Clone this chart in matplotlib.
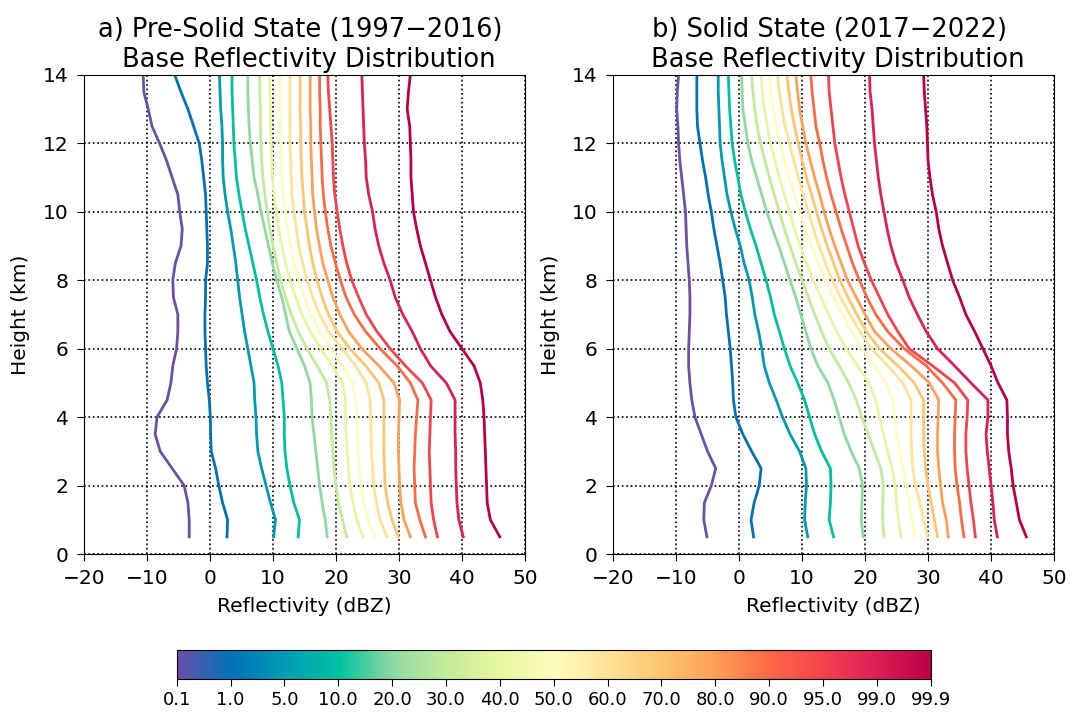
import numpy as np
import matplotlib
matplotlib.use("Agg")
import matplotlib.pyplot as plt
from matplotlib.colors import LinearSegmentedColormap, Normalize
from matplotlib.cm import ScalarMappable

# percentile levels shown in the colorbar
percentiles = ["0.1", "1.0", "5.0", "10.0", "20.0", "30.0", "40.0", "50.0",
               "60.0", "70.0", "80.0", "90.0", "95.0", "99.0", "99.9"]

heights = [0.5, 1.0, 1.5, 2.0, 2.5, 3.0, 3.5, 4.0, 4.5, 5.0, 5.5, 6.0, 6.5, 7.0,
           7.5, 8.0, 8.5, 9.0, 9.5, 10.0, 10.5, 11.0, 11.5, 12.0, 12.5, 13.0, 13.5, 14.0]

# a) pre-solid state (1997-2016), reflectivity (dBZ) per height
a_p0_1 = [-3.3, -3.3, -3.5, -4.1, -6.0, -7.9, -8.7, -8.4, -6.8, -6.2, -5.9, -5.3, -5.1, -5.1,
          -5.8, -5.9, -5.5, -4.6, -4.4, -4.8, -5.1, -6.0, -6.9, -8.0, -9.2, -9.8, -10.5, -10.6]
a_p1 = [2.7, 2.8, 2.0, 1.4, 0.9, 0.2, 0.1, 0.05, -0.1, -0.4, -0.6, -0.7, -0.8, -0.8,
        -0.7, -0.7, -0.4, -0.4, -0.5, -0.6, -0.7, -1.0, -1.3, -1.7, -2.6, -3.5, -4.6, -5.6]
a_p5 = [10.1, 10.4, 9.6, 8.9, 8.2, 7.6, 7.4, 7.3, 7.1, 7.0, 6.5, 6.0, 5.5, 5.1,
        4.7, 4.4, 4.1, 3.7, 3.3, 2.8, 2.4, 2.1, 2.0, 2.0, 1.9, 1.7, 1.6, 1.5]
a_p10 = [14.0, 14.2, 13.3, 12.7, 12.2, 11.9, 11.8, 11.8, 11.6, 11.4, 10.8, 10.0, 9.2, 8.5,
         7.9, 7.4, 6.8, 6.2, 5.6, 5.1, 4.6, 4.2, 4.0, 3.8, 3.7, 3.6, 3.5, 3.5]
a_p20 = [18.6, 18.3, 17.8, 17.4, 17.1, 16.8, 16.5, 16.2, 16.1, 15.9, 15.0, 13.8, 12.6, 12.0,
         11.4, 10.6, 9.9, 9.3, 8.7, 8.1, 7.6, 7.0, 6.7, 6.4, 6.2, 6.1, 6.0, 6.0]
a_p30 = [21.7, 21.0, 20.4, 20.0, 19.7, 19.5, 19.3, 19.2, 19.0, 18.5, 17.0, 15.4, 14.0, 12.9,
         12.0, 11.2, 10.6, 10.0, 9.5, 9.1, 8.7, 8.4, 8.2, 8.1, 8.0, 8.0, 7.9, 7.9]
a_p40 = [24.3, 23.3, 22.7, 22.2, 22.0, 21.8, 21.6, 21.5, 21.5, 21.0, 19.4, 17.6, 15.9, 14.6,
         13.6, 12.7, 12.0, 11.4, 10.9, 10.5, 10.2, 9.9, 9.8, 9.7, 9.6, 9.6, 9.5, 9.5]
a_p50 = [26.2, 25.1, 24.4, 24.0, 23.7, 23.5, 23.4, 23.3, 23.2, 22.6, 21.0, 19.2, 17.4, 16.0,
         15.0, 14.1, 13.4, 12.8, 12.3, 11.9, 11.6, 11.4, 11.3, 11.2, 11.2, 11.1, 11.1, 11.1]
a_p60 = [28.1, 27.0, 26.4, 26.0, 25.8, 25.6, 25.6, 25.5, 25.4, 24.8, 23.1, 21.0, 18.8, 17.4,
         16.3, 15.4, 14.7, 14.1, 13.7, 13.3, 13.0, 12.9, 12.8, 12.7, 12.7, 12.7, 12.7, 12.7]
a_p70 = [29.9, 28.9, 28.2, 27.8, 27.7, 27.6, 27.6, 27.6, 27.6, 26.8, 24.7, 22.2, 20.2, 18.8,
         17.8, 17.0, 16.3, 15.8, 15.4, 15.0, 14.8, 14.6, 14.5, 14.4, 14.4, 14.3, 14.3, 14.3]
a_p80 = [31.8, 30.8, 30.3, 30.1, 30.0, 29.9, 29.9, 30.0, 30.1, 29.2, 26.8, 24.1, 22.0, 20.6,
         19.5, 18.7, 17.9, 17.4, 16.9, 16.6, 16.3, 16.2, 16.1, 16.0, 16.0, 15.9, 15.9, 15.9]
a_p90 = [34.2, 33.3, 32.6, 32.5, 32.4, 32.5, 32.6, 32.8, 33.0, 31.8, 29.7, 27.0, 24.7, 22.9,
         21.6, 20.7, 19.9, 19.2, 18.7, 18.3, 18.0, 17.8, 17.7, 17.6, 17.5, 17.5, 17.4, 17.4]
a_p95 = [36.1, 35.5, 35.1, 35.0, 34.9, 34.8, 34.9, 35.0, 35.1, 33.7, 31.0, 28.6, 26.5, 24.8,
         23.6, 22.5, 21.7, 21.1, 20.6, 20.2, 19.8, 19.6, 19.5, 19.4, 19.2, 19.0, 18.8, 18.7]
a_p99 = [40.2, 39.5, 39.2, 39.1, 39.0, 39.0, 38.9, 38.9, 38.9, 37.5, 35.0, 33.4, 32.1, 30.6,
         29.4, 28.6, 27.6, 26.8, 26.2, 25.8, 25.2, 24.8, 24.7, 24.5, 24.4, 24.3, 24.2, 24.1]
a_p99_9 = [46.0, 44.5, 44.0, 43.9, 43.8, 43.7, 43.6, 43.5, 43.3, 42.9, 41.9, 40.0, 38.1, 36.8,
           35.8, 35.0, 34.2, 33.4, 32.8, 32.3, 32.1, 31.9, 31.9, 31.8, 31.7, 31.3, 31.5, 31.8]

# b) solid state (2017-2022)
b_p0_1 = [-5.1, -5.6, -5.5, -4.4, -3.7, -5.0, -6.0, -7.0, -7.5, -7.8, -8.0, -8.0, -7.9, -7.8,
          -7.8, -7.9, -8.1, -8.3, -8.4, -8.5, -8.8, -9.1, -9.4, -9.6, -9.7, -9.9, -9.8, -9.6]
b_p1 = [2.3, 1.9, 2.4, 3.2, 3.5, 2.0, 0.6, -0.5, -0.9, -1.0, -1.2, -1.4, -1.7, -2.0,
        -2.2, -2.6, -3.0, -3.5, -4.0, -4.4, -4.9, -5.3, -5.8, -6.2, -6.6, -6.7, -6.7, -6.7]
b_p5 = [10.9, 10.4, 10.5, 10.7, 10.6, 9.6, 8.1, 6.9, 5.9, 4.8, 4.0, 3.6, 3.1, 2.5,
        2.1, 1.6, 0.8, 0.2, -0.6, -1.3, -1.9, -2.3, -2.7, -3.0, -3.1, -3.2, -3.3, -3.3]
b_p10 = [15.0, 14.3, 14.5, 14.6, 14.5, 13.1, 12.0, 11.2, 10.4, 9.3, 8.1, 7.2, 6.4, 5.6,
         5.0, 4.3, 3.5, 2.7, 1.8, 1.0, 0.3, -0.2, -0.7, -1.1, -1.3, -1.5, -1.6, -1.7]
b_p20 = [19.7, 19.4, 19.5, 19.6, 19.1, 17.8, 16.7, 15.9, 15.1, 14.1, 12.5, 11.4, 10.6, 9.8,
         9.0, 8.1, 7.2, 6.3, 5.3, 4.4, 3.6, 2.8, 2.0, 1.4, 1.0, 0.6, 0.5, 0.4]
b_p30 = [23.0, 22.8, 22.8, 22.9, 22.5, 21.5, 20.5, 19.5, 18.6, 17.4, 15.9, 14.3, 13.1, 12.0,
         11.0, 10.0, 9.0, 8.1, 7.2, 6.4, 5.6, 4.8, 4.1, 3.4, 2.9, 2.5, 2.2, 2.0]
b_p40 = [25.7, 25.3, 25.0, 24.8, 24.3, 23.6, 22.9, 22.3, 21.7, 20.6, 18.8, 17.0, 15.5, 14.2,
         13.0, 11.8, 10.7, 9.7, 8.8, 8.0, 7.2, 6.4, 5.7, 5.0, 4.5, 4.0, 3.7, 3.5]
b_p50 = [27.9, 27.5, 27.0, 26.5, 26.0, 25.5, 25.0, 24.7, 24.4, 23.3, 21.5, 19.5, 17.8, 16.4,
         15.0, 13.7, 12.6, 11.5, 10.5, 9.6, 8.8, 8.0, 7.2, 6.5, 5.9, 5.4, 5.0, 4.8]
b_p60 = [29.9, 29.3, 28.7, 28.0, 27.6, 27.4, 27.3, 27.3, 27.3, 26.0, 23.6, 21.0, 19.2, 17.6,
         16.1, 14.8, 13.7, 12.7, 11.8, 11.0, 10.2, 9.4, 8.7, 8.0, 7.3, 6.8, 6.4, 6.1]
b_p70 = [31.5, 31.0, 30.5, 30.0, 29.6, 29.4, 29.3, 29.3, 29.3, 27.8, 25.2, 22.3, 20.2, 18.7,
         17.3, 16.0, 15.0, 14.0, 13.1, 12.3, 11.5, 10.7, 10.0, 9.4, 8.8, 8.3, 7.9, 7.6]
b_p80 = [33.2, 32.9, 32.3, 32.0, 31.7, 31.5, 31.5, 31.6, 31.7, 30.2, 27.3, 24.1, 21.5, 20.0,
         18.6, 17.2, 16.2, 15.2, 14.3, 13.5, 12.8, 12.0, 11.3, 10.6, 10.1, 9.6, 9.3, 9.0]
b_p90 = [35.7, 35.3, 35.0, 34.6, 34.3, 34.2, 34.2, 34.3, 34.4, 32.3, 29.7, 26.2, 23.6, 21.7,
         20.3, 19.1, 18.0, 17.1, 16.2, 15.4, 14.6, 13.9, 13.3, 12.8, 12.2, 11.9, 11.6, 11.4]
b_p95 = [37.5, 37.2, 36.8, 36.5, 36.2, 36.0, 36.0, 36.2, 36.3, 34.2, 30.7, 27.0, 25.2, 23.6,
         22.3, 21.0, 19.9, 18.9, 18.2, 17.5, 16.8, 16.2, 15.7, 15.2, 14.9, 14.6, 14.3, 14.2]
b_p99 = [41.0, 40.5, 40.3, 40.0, 39.7, 39.4, 39.2, 39.5, 39.5, 36.8, 34.2, 31.5, 29.7, 28.3,
         27.0, 26.0, 24.9, 24.1, 23.5, 23.0, 22.5, 22.1, 21.8, 21.5, 21.3, 21.1, 20.8, 20.7]
b_p99_9 = [45.6, 44.5, 44.0, 43.5, 43.2, 42.8, 42.6, 42.6, 42.5, 41.1, 40.0, 38.7, 37.4, 36.0,
           35.0, 33.9, 33.1, 32.3, 31.7, 31.3, 30.7, 30.3, 30.0, 29.9, 29.8, 29.6, 29.4, 29.3]

pre_solid = [a_p0_1, a_p1, a_p5, a_p10, a_p20, a_p30, a_p40, a_p50,
             a_p60, a_p70, a_p80, a_p90, a_p95, a_p99, a_p99_9]
solid = [b_p0_1, b_p1, b_p5, b_p10, b_p20, b_p30, b_p40, b_p50,
         b_p60, b_p70, b_p80, b_p90, b_p95, b_p99, b_p99_9]

cmap = LinearSegmentedColormap.from_list(
    "pct",
    ["#6a50a7", "#0072b8", "#009cb4", "#00c2a0", "#8fd9a3", "#c4eb98",
     "#e8f6a0", "#fdfdbf", "#fee396", "#fec56e", "#fda056", "#fc6a45",
     "#f5434f", "#dd1f55", "#bb0048"],
)

fig = plt.figure(figsize=(10.71, 7.13), dpi=100)
ax_a = fig.add_axes([0.0784, 0.223, 0.4118, 0.672])
ax_b = fig.add_axes([0.5724, 0.223, 0.4118, 0.672])

titles = ["a) Pre-Solid State (1997\u22122016) \n Base Reflectivity Distribution",
          "b) Solid State (2017\u22122022) \n Base Reflectivity Distribution"]

n = len(percentiles)
for ax, profiles, title in zip([ax_a, ax_b], [pre_solid, solid], titles):
    for i, prof in enumerate(profiles):
        ax.plot(prof, heights, color=cmap(i / (n - 1)), linewidth=2)
    ax.set_xlim(-20, 50)
    ax.set_ylim(0, 14)
    ax.set_xticks(np.arange(-20, 51, 10))
    ax.set_yticks(np.arange(0, 15, 2))
    ax.grid(True, linestyle=":", color="k", linewidth=1.2)
    ax.tick_params(labelsize=14.5, length=5, pad=6)
    ax.set_xlabel("Reflectivity (dBZ)", fontsize=14.5, labelpad=6)
    ax.set_ylabel("Height (km)", fontsize=14.5, labelpad=9)
    ax.set_title(title, fontsize=18.5)

cax = fig.add_axes([0.165, 0.047, 0.704, 0.041])
sm = ScalarMappable(norm=Normalize(0, n - 1), cmap=cmap)
cb = fig.colorbar(sm, cax=cax, orientation="horizontal", ticks=np.arange(n))
cb.ax.set_xticklabels(percentiles)
cb.ax.tick_params(labelsize=13, length=5, pad=3)

fig.savefig("out.png", dpi=100)
